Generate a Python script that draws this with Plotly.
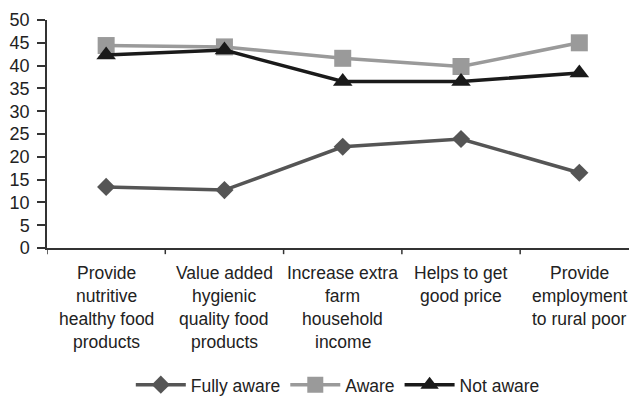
import plotly.graph_objects as go

categories = [
    "Provide<br>nutritive<br>healthy food<br>products",
    "Value added<br>hygienic<br>quality food<br>products",
    "Increase extra<br>farm<br>household<br>income",
    "Helps to get<br>good price",
    "Provide<br>employment<br>to rural poor",
]
fully_aware = [13.4, 12.7, 22.2, 23.9, 16.5]
aware = [44.4, 44.1, 41.6, 39.8, 45.0]
not_aware = [42.3, 43.4, 36.5, 36.5, 38.4]

x_idx = list(range(len(categories)))

FONT = "Liberation Sans, Arial, sans-serif"
TEXT = "#222222"
AXIS = "#333333"

fig = go.Figure()
fig.add_trace(go.Scatter(
    x=x_idx, y=fully_aware, name="Fully aware", mode="lines+markers",
    line=dict(color="#555555", width=3.5),
    marker=dict(symbol="diamond", size=14, color="#555555"),
))
fig.add_trace(go.Scatter(
    x=x_idx, y=aware, name="Aware", mode="lines+markers",
    line=dict(color="#9a9a9a", width=3.5),
    marker=dict(symbol="square", size=17, color="#9a9a9a"),
))
fig.add_trace(go.Scatter(
    x=x_idx, y=not_aware, name="Not aware", mode="lines+markers",
    line=dict(color="#1a1a1a", width=3.5),
    marker=dict(symbol="triangle-up", size=17, color="#1a1a1a"),
))

fig.update_layout(
    width=629, height=396,
    margin=dict(l=47, r=0, t=20, b=148, autoexpand=False),
    paper_bgcolor="white", plot_bgcolor="white",
    font=dict(family=FONT, size=17.5, color=TEXT),
    showlegend=True,
    legend=dict(
        orientation="h", x=0.144, xanchor="left", y=-0.60, yanchor="middle",
        font=dict(family=FONT, size=17.5, color=TEXT),
        itemwidth=50, tracegroupgap=0, bgcolor="rgba(0,0,0,0)",
    ),
    xaxis=dict(
        range=[-0.5, 4.42],
        tickmode="array", tickvals=x_idx, showticklabels=False,
        showline=True, linecolor=AXIS, linewidth=1.5,
        ticks="", showgrid=False, zeroline=False, automargin=False,
    ),
    yaxis=dict(
        range=[0, 50], dtick=5,
        tickfont=dict(family=FONT, size=18, color=TEXT),
        showline=True, linecolor=AXIS, linewidth=1.5,
        ticks="outside", ticklen=8, tickcolor=AXIS, tickwidth=1.5,
        ticklabelstandoff=4,
        showgrid=False, zeroline=False, automargin=False,
    ),
)

# Boundary ticks between the categories on the x axis
for b in [-0.5, 0.5, 1.5, 2.5, 3.5]:
    fig.add_shape(
        type="line", xref="x", yref="paper",
        x0=b, x1=b, y0=0, y1=-0.027,
        line=dict(color=AXIS, width=1.5),
    )

# Category labels, one line at a time for tighter line spacing
LINE_STEP = 23
for i, label in enumerate(categories):
    for j, part in enumerate(label.split("<br>")):
        fig.add_annotation(
            x=i, xref="x", y=0, yref="paper",
            text=part, showarrow=False,
            xanchor="center", yanchor="middle",
            yshift=-25 - j * LINE_STEP,
            font=dict(family=FONT, size=17.5, color=TEXT),
        )

fig.write_html("out.html")
